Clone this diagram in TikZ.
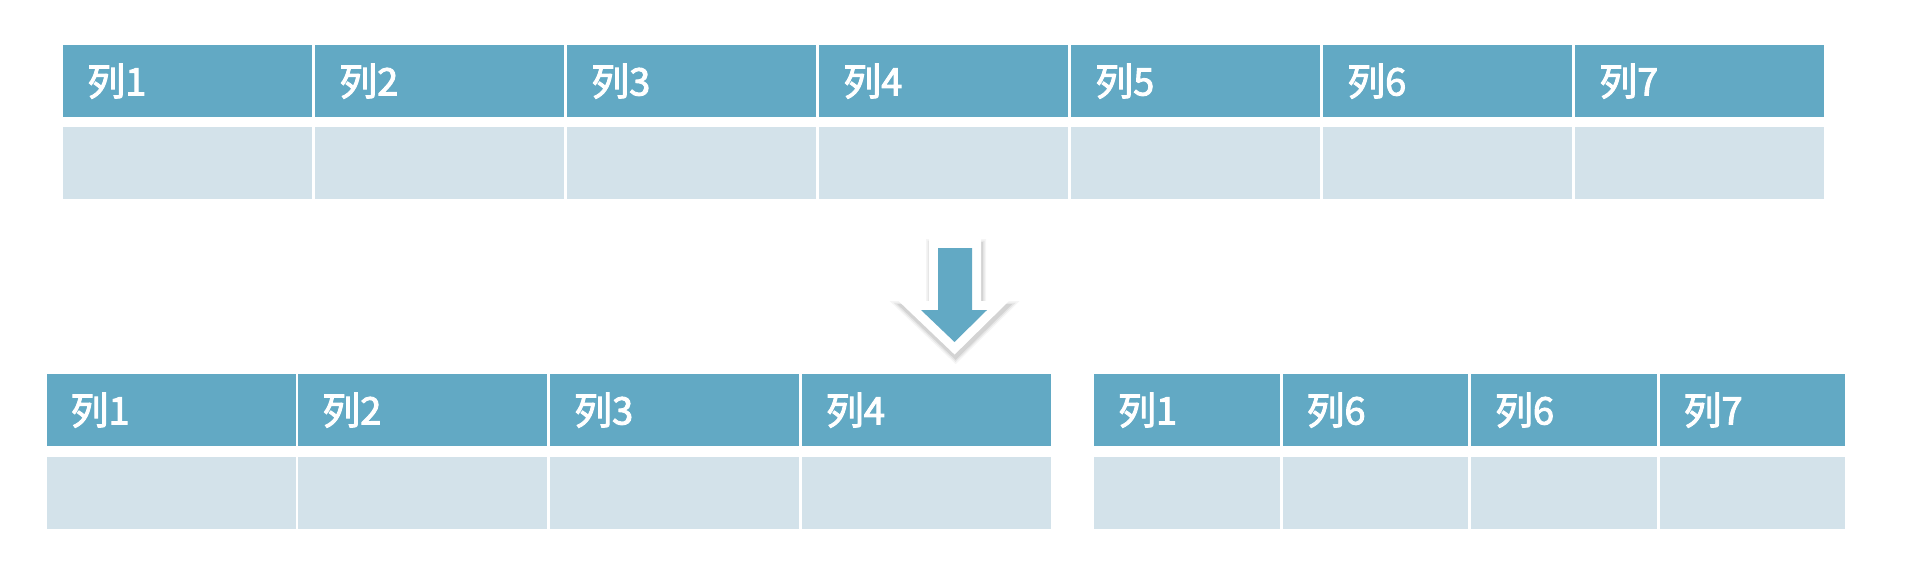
\documentclass[tikz,border=0pt]{standalone}
\usepackage{fontspec}
\newfontfamily\cjk[FakeBold=2.5]{Noto Sans CJK SC}
\definecolor{hdr}{HTML}{62A9C4}
\definecolor{bdy}{HTML}{D3E2EA}
\begin{document}
\begin{tikzpicture}[x=1pt,y=-1pt,
  hcell/.style={fill=hdr, text=white, anchor=north west, minimum height=72pt,
    inner xsep=24pt, inner ysep=0pt, text width=#1, align=left,
    font={\cjk\fontsize{38}{40}\selectfont}},
  bcell/.style={fill=bdy, anchor=north west, minimum width=#1, minimum height=71.5pt, inner sep=0pt},
  arrowshadow/.style={draw=black, line join=miter},
  arrowbody/.style={fill=hdr, draw=white, line width=18pt, line join=miter}]
\useasboundingbox (0,0) rectangle (1910,580);
\fill[white] (0,0) rectangle (1910,580);
% top table
\foreach \i in {1,...,7} {
  \pgfmathsetmacro\xx{63+(\i-1)*252}
  \node[hcell=201pt] (t\i) at (\xx,45) {列\i};
  \node[bcell=249pt] (tb\i) at (\xx,127) {};
}
% bottom left table
\foreach \i in {1,...,4} {
  \pgfmathsetmacro\xx{46.3+(\i-1)*251.8}
  \node[hcell=201pt] (l\i) at (\xx,374) {列\i};
  \node[bcell=249pt] (lb\i) at (\xx,457) {};
}
% bottom right table
\foreach \i/\lab in {1/1,2/6,3/6,4/7} {
  \pgfmathsetmacro\xx{1093.8+(\i-1)*188.5}
  \node[hcell=137.5pt] (r\i) at (\xx,374) {列\lab};
  \node[bcell=185.5pt] (rb\i) at (\xx,457) {};
}
% block arrow
\begin{scope}[shift={(1,4)}]
  \draw[arrowshadow, line width=26pt, opacity=0.04] (938,248) -- (972,248) -- (972,310) -- (987,310) -- (954.5,342) -- (921,310) -- (938,310) -- cycle;
  \draw[arrowshadow, line width=23pt, opacity=0.06] (938,248) -- (972,248) -- (972,310) -- (987,310) -- (954.5,342) -- (921,310) -- (938,310) -- cycle;
  \draw[arrowshadow, line width=20pt, opacity=0.08] (938,248) -- (972,248) -- (972,310) -- (987,310) -- (954.5,342) -- (921,310) -- (938,310) -- cycle;
\end{scope}
\draw[arrowbody] (938,248) -- (972,248) -- (972,310) -- (987,310) -- (954.5,342) -- (921,310) -- (938,310) -- cycle;
\fill[hdr] (938,248) -- (972,248) -- (972,310) -- (987,310) -- (954.5,342) -- (921,310) -- (938,310) -- cycle;
\end{tikzpicture}
\end{document}
